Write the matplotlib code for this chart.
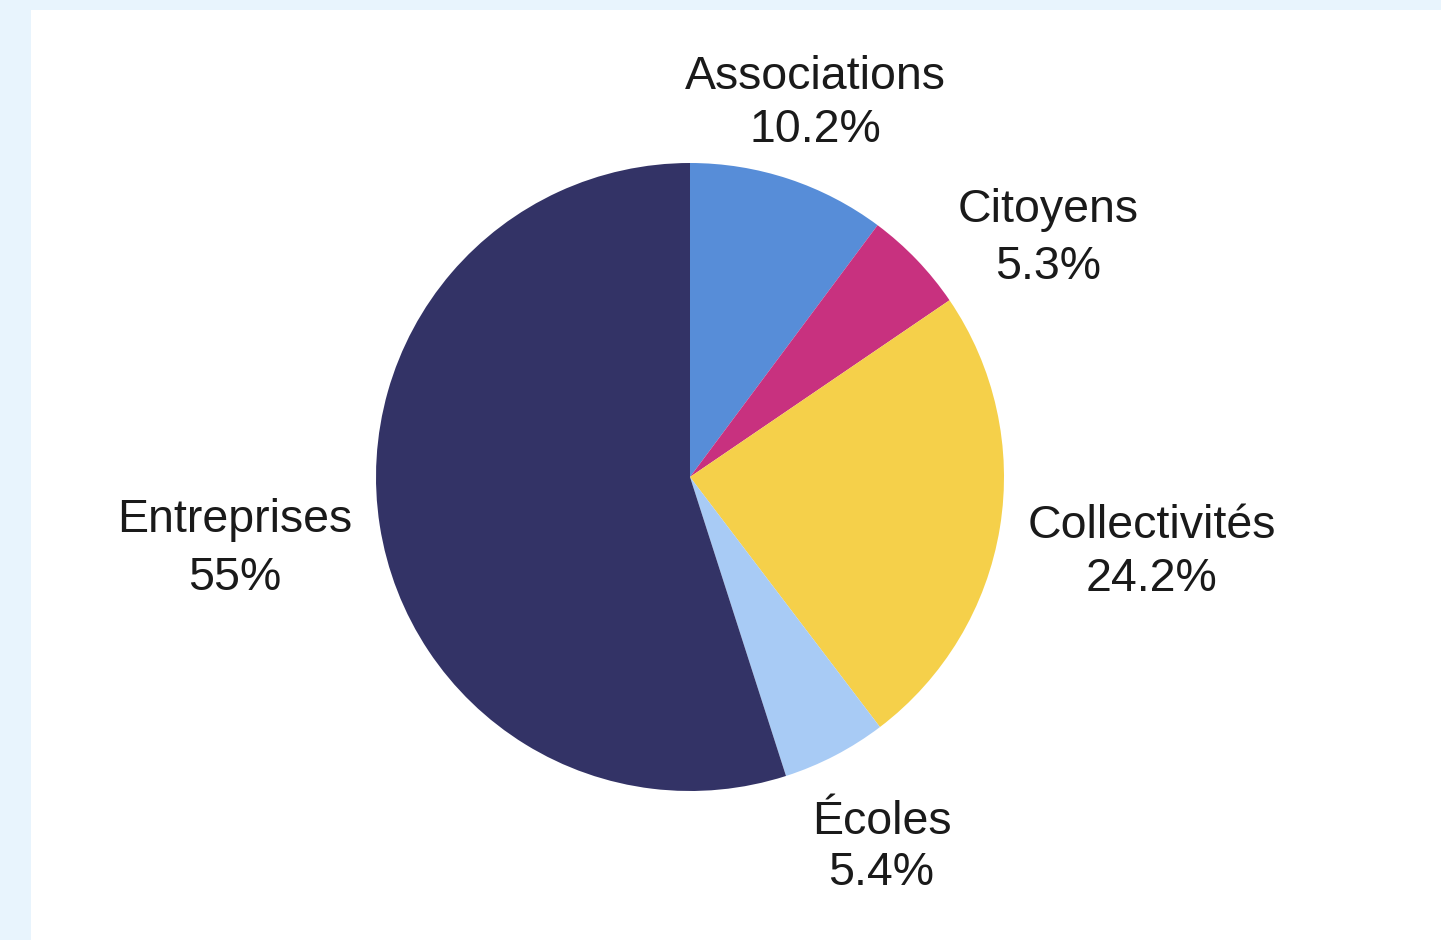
import matplotlib.pyplot as plt
from matplotlib.patches import Rectangle

categories = ["Associations", "Citoyens", "Collectivités", "Écoles", "Entreprises"]
shares = [10.2, 5.3, 24.2, 5.4, 55.0]
pct_labels = ["10.2%", "5.3%", "24.2%", "5.4%", "55%"]
colors = ["#578dd8", "#c8317f", "#f5d04a", "#a8cbf5", "#333366"]
# label centres in pie-radius units, and gap between the two label lines
label_pos = [(0.40, 1.19), (1.14, 0.76), (1.47, -0.24), (0.61, -1.18), (-1.45, -0.23)]
line_gap = [1.25, 1.4, 1.25, 1.22, 1.4]

plt.rcParams["font.family"] = ["Liberation Sans", "DejaVu Sans"]

fig = plt.figure(figsize=(14.41, 9.40), dpi=100)
fig.patch.set_facecolor("#e8f4fd")

# white panel behind the chart
bg = fig.add_axes([31 / 1441, 0, 1 - 31 / 1441, 930 / 940])
bg.axis("off")
bg.add_patch(Rectangle((0, 0), 1, 1, transform=bg.transAxes, facecolor="white",
                       edgecolor="none"))

ax = fig.add_axes([0, 0, 1, 1])
ax.set_facecolor("none")
ax.pie(shares, colors=colors, startangle=90, counterclock=False, radius=1.0,
       wedgeprops=dict(linewidth=0))
ax.set_xlim(-690 / 314, (1441 - 690) / 314)
ax.set_ylim((477 - 940) / 314, 477 / 314)
ax.set_aspect("auto")
ax.axis("off")

for name, pct, (x, y), ls in zip(categories, pct_labels, label_pos, line_gap):
    ax.text(x, y, name + "\n" + pct, ha="center", va="center", fontsize=33.5,
            color="#1a1a1a", linespacing=ls)

fig.savefig("out.png", dpi=100, facecolor=fig.get_facecolor())
